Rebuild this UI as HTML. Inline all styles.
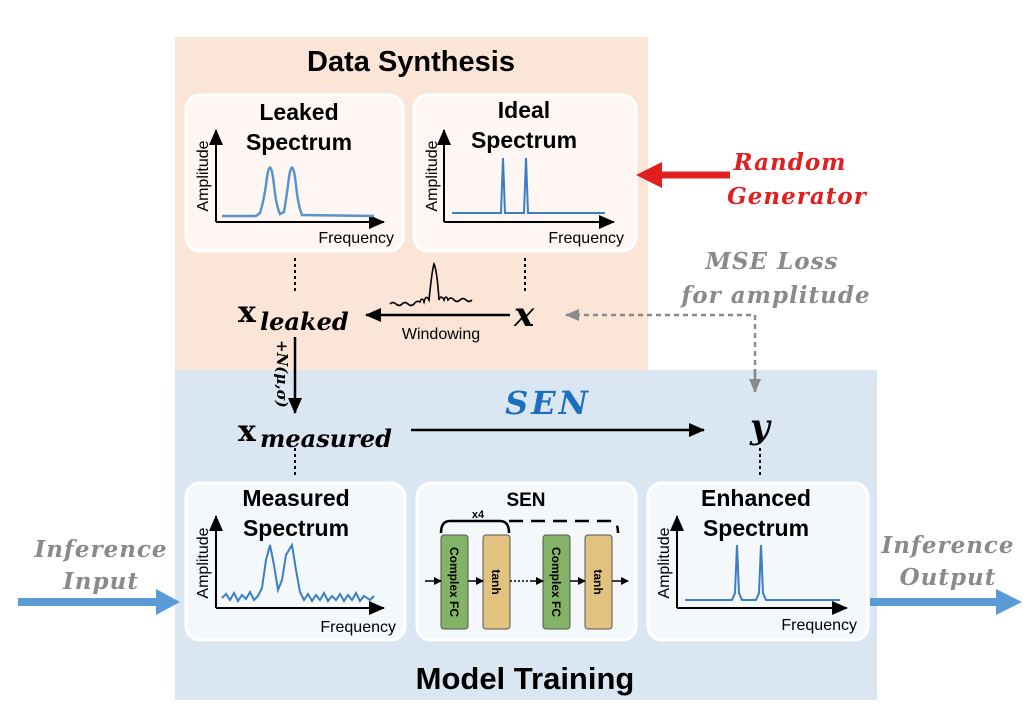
<!DOCTYPE html>
<html><head><meta charset="utf-8"><style>
html,body{margin:0;padding:0;background:#fff;width:1030px;height:726px;overflow:hidden}
svg text{font-family:"Liberation Sans",sans-serif}
.t{font-weight:bold;font-size:23px;text-anchor:middle;fill:#000}
.ax{font-size:16px;fill:#000}
.m{font-family:"DejaVu Serif","Liberation Serif",serif;font-weight:bold;font-style:italic}
.g{font-family:"DejaVu Serif","Liberation Serif",serif;font-weight:bold;font-style:italic;font-size:23px;fill:#8a8a8a;text-anchor:middle;letter-spacing:1px}
</style></head><body>
<svg width="1030" height="726" viewBox="0 0 1030 726" xmlns="http://www.w3.org/2000/svg">
<defs>
<marker id="a" markerWidth="8" markerHeight="8" refX="7" refY="4" orient="auto" markerUnits="userSpaceOnUse"><path d="M0,0 L8,4 L0,8z" fill="#000"/></marker>
<marker id="ab" markerWidth="16" markerHeight="14" refX="15" refY="7" orient="auto" markerUnits="userSpaceOnUse"><path d="M0,0 L16,7 L0,14z" fill="#000"/></marker>
<marker id="ag" markerWidth="14" markerHeight="12" refX="13" refY="6" orient="auto" markerUnits="userSpaceOnUse"><path d="M0,0 L14,6 L0,12z" fill="#8a8a8a"/></marker>
</defs>
<rect x="175" y="37" width="473" height="333" fill="#fbe5d6"/>
<rect x="175" y="370" width="702" height="330" fill="#dae7f3"/>
<text x="411" y="71" class="t" style="font-size:29px">Data Synthesis</text>
<text x="525" y="689" class="t" style="font-size:31px">Model Training</text>

<rect x="186" y="95" width="217" height="156" rx="14" fill="#fdf6f2" stroke="#fff" stroke-width="3"/>
<rect x="414" y="95" width="222" height="156" rx="14" fill="#fdf6f2" stroke="#fff" stroke-width="3"/>
<rect x="186" y="483" width="219" height="157" rx="14" fill="#f4f8fb" stroke="#fff" stroke-width="3"/>
<rect x="417" y="483" width="219" height="157" rx="14" fill="#f4f8fb" stroke="#fff" stroke-width="3"/>
<rect x="648" y="483" width="220" height="157" rx="14" fill="#f4f8fb" stroke="#fff" stroke-width="3"/>

<!-- Leaked -->
<text x="299" y="120" class="t">Leaked</text><text x="299" y="150" class="t">Spectrum</text>
<line x1="216" y1="222" x2="384" y2="222" stroke="#000" stroke-width="2" marker-end="url(#ab)"/>
<line x1="216" y1="222" x2="216" y2="130" stroke="#000" stroke-width="2" marker-end="url(#ab)"/>
<text transform="translate(208,176) rotate(-90)" class="ax" text-anchor="middle">Amplitude</text>
<text x="394" y="243" class="ax" text-anchor="end">Frequency</text>
<path d="M222,216 L256,216 L260,213 Q264,200 266,185 Q270,150 274,185 Q276,205 280,214 L284,212 Q286,200 288,185 Q292,150 296,185 Q298,205 302,215 L374,216" fill="none" stroke="#5b94cc" stroke-width="2.5"/>

<!-- Ideal -->
<text x="524" y="118" class="t">Ideal</text><text x="524" y="148" class="t">Spectrum</text>
<line x1="444" y1="222" x2="614" y2="222" stroke="#000" stroke-width="2" marker-end="url(#ab)"/>
<line x1="444" y1="222" x2="444" y2="130" stroke="#000" stroke-width="2" marker-end="url(#ab)"/>
<text transform="translate(437,176) rotate(-90)" class="ax" text-anchor="middle">Amplitude</text>
<text x="624" y="243" class="ax" text-anchor="end">Frequency</text>
<path d="M452,213 L501,213 L503,158 L505,213 L524,213 L526,158 L528,213 L605,213" fill="none" stroke="#3a7fc4" stroke-width="2"/>

<!-- Measured -->
<text x="296" y="506" class="t">Measured</text><text x="296" y="536" class="t">Spectrum</text>
<line x1="216" y1="608" x2="384" y2="608" stroke="#000" stroke-width="2" marker-end="url(#ab)"/>
<line x1="216" y1="608" x2="216" y2="516" stroke="#000" stroke-width="2" marker-end="url(#ab)"/>
<text transform="translate(208,563) rotate(-90)" class="ax" text-anchor="middle">Amplitude</text>
<text x="396" y="632" class="ax" text-anchor="end">Frequency</text>
<path d="M222,598 L226,594 L230,600 L234,593 L238,601 L242,595 L246,599 L250,592 L254,600 L258,596 L262,588 L266,560 L270,545 L274,565 L278,590 L282,580 L286,555 L292,545 L296,570 L300,592 L304,600 L308,594 L312,601 L316,595 L320,600 L324,593 L328,601 L332,596 L336,600 L340,594 L344,601 L348,595 L352,600 L356,593 L360,601 L364,596 L370,600 L374,596" fill="none" stroke="#3a7fc4" stroke-width="2"/>

<!-- SEN -->
<text x="526" y="506" class="t" style="font-size:19px">SEN</text>
<text x="478" y="518" font-size="11" font-weight="bold" text-anchor="middle">x4</text>
<path d="M441,533 Q441,521 450,521 L500,521 Q509,521 509,533" fill="none" stroke="#000" stroke-width="2.5"/>
<path d="M509,521 L610,521 Q618,521 618,533" fill="none" stroke="#000" stroke-width="2.5" stroke-dasharray="14,8"/>
<rect x="441" y="535" width="27" height="94" rx="3" fill="#82b366" stroke="#555"/>
<rect x="483" y="535" width="27" height="94" rx="3" fill="#e2c27f" stroke="#555"/>
<rect x="543" y="535" width="27" height="94" rx="3" fill="#82b366" stroke="#555"/>
<rect x="585" y="535" width="27" height="94" rx="3" fill="#e2c27f" stroke="#555"/>
<text transform="translate(450,582) rotate(90)" font-size="12" font-weight="bold" text-anchor="middle">Complex FC</text>
<text transform="translate(492,582) rotate(90)" font-size="12" font-weight="bold" text-anchor="middle">tanh</text>
<text transform="translate(552,582) rotate(90)" font-size="12" font-weight="bold" text-anchor="middle">Complex FC</text>
<text transform="translate(594,582) rotate(90)" font-size="12" font-weight="bold" text-anchor="middle">tanh</text>
<line x1="425" y1="581" x2="441" y2="581" stroke="#000" stroke-width="1.5" marker-end="url(#a)"/>
<line x1="468" y1="581" x2="483" y2="581" stroke="#000" stroke-width="1.5" marker-end="url(#a)"/>
<line x1="510" y1="581" x2="530" y2="581" stroke="#000" stroke-width="1.5" stroke-dasharray="2,2"/>
<line x1="530" y1="581" x2="543" y2="581" stroke="#000" stroke-width="1.5" marker-end="url(#a)"/>
<line x1="570" y1="581" x2="585" y2="581" stroke="#000" stroke-width="1.5" marker-end="url(#a)"/>
<line x1="612" y1="581" x2="628" y2="581" stroke="#000" stroke-width="1.5" marker-end="url(#a)"/>

<!-- Enhanced -->
<text x="756" y="506" class="t">Enhanced</text><text x="756" y="536" class="t">Spectrum</text>
<line x1="677" y1="608" x2="847" y2="608" stroke="#000" stroke-width="2" marker-end="url(#ab)"/>
<line x1="677" y1="608" x2="677" y2="516" stroke="#000" stroke-width="2" marker-end="url(#ab)"/>
<text transform="translate(669,563) rotate(-90)" class="ax" text-anchor="middle">Amplitude</text>
<text x="857" y="630" class="ax" text-anchor="end">Frequency</text>
<path d="M685,600 L732,600 L735,593 L737,545 L739,593 L742,600 L756,600 L759,593 L761,545 L763,593 L766,600 L840,600" fill="none" stroke="#3a7fc4" stroke-width="2"/>

<g stroke="#000" stroke-width="2" stroke-dasharray="3,3">
<line x1="295" y1="258" x2="295" y2="292"/><line x1="525" y1="258" x2="525" y2="292"/>
<line x1="295" y1="448" x2="295" y2="478"/><line x1="760" y1="448" x2="760" y2="478"/>
</g>

<text x="238" y="322" class="m" font-size="30" style="font-style:normal">x</text>
<text x="260" y="330" class="m" font-size="24">leaked</text>
<text x="514" y="326" class="m" font-size="34">x</text>
<text x="238" y="441" class="m" font-size="30" style="font-style:normal">x</text>
<text x="260" y="447" class="m" font-size="24">measured</text>
<text x="750" y="438" class="m" font-size="34">y</text>
<text x="548" y="414" class="m" font-size="32" fill="#1a6fbf" text-anchor="middle" letter-spacing="3">SEN</text>

<line x1="510" y1="315" x2="366" y2="315" stroke="#000" stroke-width="2.5" marker-end="url(#ab)"/>
<text x="441" y="339" font-size="16" text-anchor="middle">Windowing</text>
<path d="M390,304 q3,-3 6,0 q3,3 6,0 q3,-3 6,0 q3,3 6,0 q3,-4 6,-2 q2,-6 4,0 q2,-8 5,-2 q3,-30 5,-36 q3,6 5,36 q2,-6 5,0 q2,-6 4,0 q3,-4 6,0 q3,3 6,0 q3,-3 6,0 q3,3 6,0" fill="none" stroke="#000" stroke-width="1.6"/>

<line x1="295" y1="337" x2="295" y2="413" stroke="#000" stroke-width="2.5" marker-end="url(#ab)"/>
<text transform="translate(277,340) rotate(90)" class="m" font-size="15">+N(μ,σ)</text>

<line x1="411" y1="430" x2="704" y2="430" stroke="#000" stroke-width="2.5" marker-end="url(#ab)"/>

<path d="M755,392 L755,315 L566,315" fill="none" stroke="#8a8a8a" stroke-width="2.5" stroke-dasharray="5,4" marker-end="url(#ag)"/>
<path d="M755,370 L755,392" fill="none" stroke="#8a8a8a" stroke-width="2.5" marker-end="url(#ag)"/>
<text x="772" y="269" class="g">MSE Loss</text>
<text x="776" y="303" class="g">for amplitude</text>

<line x1="730" y1="175" x2="656" y2="175" stroke="#e02020" stroke-width="7"/>
<path d="M636,175 L662,162 L662,188z" fill="#e02020"/>
<text x="790" y="170" class="g" style="fill:#e02020">Random</text>
<text x="797" y="204" class="g" style="fill:#e02020">Generator</text>

<text x="101" y="557" class="g">Inference</text>
<text x="101" y="589" class="g">Input</text>
<line x1="18" y1="602" x2="160" y2="602" stroke="#5b9bd5" stroke-width="8"/>
<path d="M180,602 L156,589 L156,615z" fill="#5b9bd5"/>
<text x="948" y="553" class="g">Inference</text>
<text x="948" y="585" class="g">Output</text>
<line x1="870" y1="602" x2="1000" y2="602" stroke="#5b9bd5" stroke-width="8"/>
<path d="M1022,602 L996,589 L996,615z" fill="#5b9bd5"/>
</svg>
</body></html>
